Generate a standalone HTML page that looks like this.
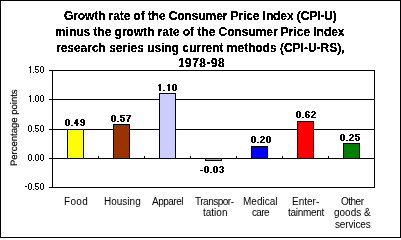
<!DOCTYPE html>
<html><head><meta charset="utf-8">
<style>
html,body{margin:0;padding:0;}
body{width:401px;height:238px;position:relative;overflow:hidden;background:#fff;font-family:"Liberation Sans",sans-serif;color:#000;}
.l{position:absolute;background:#000;}
.x{position:absolute;white-space:pre;line-height:16px;}
.b{font-weight:bold;filter:url(#th);}
.r{will-change:transform;}
.bar{position:absolute;box-sizing:border-box;border:1px solid #000;width:17px;}
</style></head><body>
<div style="position:absolute;left:0;top:0;width:401px;height:238px;box-sizing:border-box;border:1px solid #000;"></div>
<svg width="0" height="0" style="position:absolute"><filter id="th" filterUnits="userSpaceOnUse" x="-200" y="-200" width="800" height="600" color-interpolation-filters="sRGB"><feComponentTransfer><feFuncA type="discrete" tableValues="0 1 1"/></feComponentTransfer></filter><filter id="th5" filterUnits="userSpaceOnUse" x="-200" y="-200" width="800" height="600" color-interpolation-filters="sRGB"><feComponentTransfer><feFuncA type="discrete" tableValues="0 1"/></feComponentTransfer></filter></svg>
<div class="l" style="left:49px;top:70px;width:326px;height:1px;"></div>
<div class="l" style="left:49px;top:99px;width:326px;height:1px;"></div>
<div class="l" style="left:49px;top:129px;width:326px;height:1px;"></div>
<div class="l" style="left:49px;top:158px;width:326px;height:1px;"></div>
<div class="l" style="left:49px;top:187px;width:326px;height:1px;"></div>
<div class="l" style="left:52px;top:70px;width:1px;height:118px;"></div>
<div class="l" style="left:374px;top:70px;width:1px;height:118px;"></div>
<div class="l" style="left:98px;top:156px;width:1px;height:2px;"></div>
<div class="l" style="left:144px;top:156px;width:1px;height:2px;"></div>
<div class="l" style="left:190px;top:156px;width:1px;height:2px;"></div>
<div class="l" style="left:236px;top:156px;width:1px;height:2px;"></div>
<div class="l" style="left:282px;top:156px;width:1px;height:2px;"></div>
<div class="l" style="left:328px;top:156px;width:1px;height:2px;"></div>
<div class="bar" style="left:67px;top:129px;height:30px;background:#ffff00;"></div>
<div class="bar" style="left:113px;top:124px;height:35px;background:#993300;"></div>
<div class="bar" style="left:159px;top:93px;height:66px;background:#ccccff;"></div>
<div class="bar" style="left:205px;top:158px;height:3px;background:#ff9900;"></div>
<div class="bar" style="left:251px;top:146px;height:13px;background:#0000ff;"></div>
<div class="bar" style="left:297px;top:121px;height:38px;background:#ff0000;"></div>
<div class="bar" style="left:343px;top:143px;height:16px;background:#008000;"></div>
<div class="x b" style="left:64px;top:8px;"><div style="font-size:13px;transform:scaleX(0.92);transform-origin:0 0;letter-spacing:-0.087px;">Growth rate of the Consumer Price Index (CPI-U)</div></div>
<div class="x b" style="left:55px;top:24px;"><div style="font-size:13px;transform:scaleX(0.92);transform-origin:0 0;letter-spacing:-0.021px;">minus the growth rate of the Consumer Price Index</div></div>
<div class="x b" style="left:56px;top:40px;"><div style="font-size:13px;transform:scaleX(0.92);transform-origin:0 0;">research series using current methods (CPI-U-RS),</div></div>
<div class="x b" style="left:178px;top:55px;"><div style="font-size:13px;transform:scaleX(0.92);transform-origin:0 0;letter-spacing:0.5px;">1978-98</div></div>
<div class="x r" style="left:7px;top:166px;font-size:9.5px;text-rendering:geometricPrecision;-webkit-text-stroke:0.15px #000;transform-origin:0 0;transform:rotate(-90deg);">Percentage points</div>
<div class="x r" style="left:64px;top:194px;font-size:10px;letter-spacing:0.333px;">Food</div>
<div class="x r" style="left:104px;top:194px;font-size:10px;">Housing</div>
<div class="x r" style="left:152px;top:194px;font-size:10px;letter-spacing:-0.5px;">Apparel</div>
<div class="x r" style="left:195px;top:194px;font-size:10px;letter-spacing:-0.5px;">Transpor-</div>
<div class="x r" style="left:203px;top:205px;font-size:10px;">tation</div>
<div class="x r" style="left:243px;top:194px;font-size:10px;">Medical</div>
<div class="x r" style="left:252px;top:205px;font-size:10px;letter-spacing:-0.667px;">care</div>
<div class="x r" style="left:292px;top:194px;font-size:10px;">Enter-</div>
<div class="x r" style="left:288px;top:205px;font-size:10px;letter-spacing:-0.286px;">tainment</div>
<div class="x r" style="left:341px;top:194px;font-size:10px;letter-spacing:-0.5px;">Other</div>
<div class="x r" style="left:334px;top:205px;font-size:10px;">goods &amp;</div>
<div class="x r" style="left:335px;top:217px;font-size:10px;letter-spacing:-0.143px;">services</div>
<svg width="401" height="238" style="position:absolute;left:0;top:0" shape-rendering="crispEdges"><path fill="#000" d="M30 66h1v1h-1zM29 67h2v1h-2zM30 68h1v1h-1zM30 69h1v1h-1zM30 70h1v1h-1zM30 71h1v1h-1zM30 72h1v1h-1zM33 72h1v1h-1zM35 66h4v1h-4zM35 67h1v1h-1zM35 68h1v1h-1zM35 69h3v1h-3zM38 70h1v1h-1zM35 71h1v1h-1zM38 71h1v1h-1zM36 72h2v1h-2zM41 66h2v1h-2zM40 67h1v1h-1zM43 67h1v1h-1zM40 68h1v1h-1zM43 68h1v1h-1zM40 69h1v1h-1zM43 69h1v1h-1zM40 70h1v1h-1zM43 70h1v1h-1zM40 71h1v1h-1zM43 71h1v1h-1zM41 72h2v1h-2zM30 95h1v1h-1zM29 96h2v1h-2zM30 97h1v1h-1zM30 98h1v1h-1zM30 99h1v1h-1zM30 100h1v1h-1zM30 101h1v1h-1zM33 101h1v1h-1zM36 95h2v1h-2zM35 96h1v1h-1zM38 96h1v1h-1zM35 97h1v1h-1zM38 97h1v1h-1zM35 98h1v1h-1zM38 98h1v1h-1zM35 99h1v1h-1zM38 99h1v1h-1zM35 100h1v1h-1zM38 100h1v1h-1zM36 101h2v1h-2zM41 95h2v1h-2zM40 96h1v1h-1zM43 96h1v1h-1zM40 97h1v1h-1zM43 97h1v1h-1zM40 98h1v1h-1zM43 98h1v1h-1zM40 99h1v1h-1zM43 99h1v1h-1zM40 100h1v1h-1zM43 100h1v1h-1zM41 101h2v1h-2zM29 125h2v1h-2zM28 126h1v1h-1zM31 126h1v1h-1zM28 127h1v1h-1zM31 127h1v1h-1zM28 128h1v1h-1zM31 128h1v1h-1zM28 129h1v1h-1zM31 129h1v1h-1zM28 130h1v1h-1zM31 130h1v1h-1zM29 131h2v1h-2zM33 131h1v1h-1zM35 125h4v1h-4zM35 126h1v1h-1zM35 127h1v1h-1zM35 128h3v1h-3zM38 129h1v1h-1zM35 130h1v1h-1zM38 130h1v1h-1zM36 131h2v1h-2zM41 125h2v1h-2zM40 126h1v1h-1zM43 126h1v1h-1zM40 127h1v1h-1zM43 127h1v1h-1zM40 128h1v1h-1zM43 128h1v1h-1zM40 129h1v1h-1zM43 129h1v1h-1zM40 130h1v1h-1zM43 130h1v1h-1zM41 131h2v1h-2zM29 154h2v1h-2zM28 155h1v1h-1zM31 155h1v1h-1zM28 156h1v1h-1zM31 156h1v1h-1zM28 157h1v1h-1zM31 157h1v1h-1zM28 158h1v1h-1zM31 158h1v1h-1zM28 159h1v1h-1zM31 159h1v1h-1zM29 160h2v1h-2zM33 160h1v1h-1zM36 154h2v1h-2zM35 155h1v1h-1zM38 155h1v1h-1zM35 156h1v1h-1zM38 156h1v1h-1zM35 157h1v1h-1zM38 157h1v1h-1zM35 158h1v1h-1zM38 158h1v1h-1zM35 159h1v1h-1zM38 159h1v1h-1zM36 160h2v1h-2zM41 154h2v1h-2zM40 155h1v1h-1zM43 155h1v1h-1zM40 156h1v1h-1zM43 156h1v1h-1zM40 157h1v1h-1zM43 157h1v1h-1zM40 158h1v1h-1zM43 158h1v1h-1zM40 159h1v1h-1zM43 159h1v1h-1zM41 160h2v1h-2zM29 183h2v1h-2zM28 184h1v1h-1zM31 184h1v1h-1zM28 185h1v1h-1zM31 185h1v1h-1zM28 186h1v1h-1zM31 186h1v1h-1zM28 187h1v1h-1zM31 187h1v1h-1zM28 188h1v1h-1zM31 188h1v1h-1zM29 189h2v1h-2zM33 189h1v1h-1zM35 183h4v1h-4zM35 184h1v1h-1zM35 185h1v1h-1zM35 186h3v1h-3zM38 187h1v1h-1zM35 188h1v1h-1zM38 188h1v1h-1zM36 189h2v1h-2zM41 183h2v1h-2zM40 184h1v1h-1zM43 184h1v1h-1zM40 185h1v1h-1zM43 185h1v1h-1zM40 186h1v1h-1zM43 186h1v1h-1zM40 187h1v1h-1zM43 187h1v1h-1zM40 188h1v1h-1zM43 188h1v1h-1zM41 189h2v1h-2zM25 186h2v1h-2zM159 84h2v1h-2zM158 85h3v1h-3zM159 86h2v1h-2zM159 87h2v1h-2zM159 88h2v1h-2zM159 89h2v1h-2zM159 90h2v1h-2zM163 90h2v1h-2zM168 84h2v1h-2zM167 85h3v1h-3zM168 86h2v1h-2zM168 87h2v1h-2zM168 88h2v1h-2zM168 89h2v1h-2zM168 90h2v1h-2zM173 84h3v1h-3zM172 85h2v1h-2zM175 85h2v1h-2zM172 86h2v1h-2zM175 86h2v1h-2zM172 87h2v1h-2zM175 87h2v1h-2zM172 88h2v1h-2zM175 88h2v1h-2zM172 89h2v1h-2zM175 89h2v1h-2zM173 90h3v1h-3zM66 119h3v1h-3zM65 120h2v1h-2zM68 120h2v1h-2zM65 121h2v1h-2zM68 121h2v1h-2zM65 122h2v1h-2zM68 122h2v1h-2zM65 123h2v1h-2zM68 123h2v1h-2zM65 124h2v1h-2zM68 124h2v1h-2zM66 125h3v1h-3zM71 125h2v1h-2zM76 119h2v1h-2zM75 120h3v1h-3zM75 121h3v1h-3zM74 122h4v1h-4zM74 123h5v1h-5zM76 124h2v1h-2zM76 125h2v1h-2zM81 119h3v1h-3zM80 120h2v1h-2zM83 120h2v1h-2zM80 121h2v1h-2zM83 121h2v1h-2zM81 122h4v1h-4zM83 123h2v1h-2zM80 124h2v1h-2zM83 124h2v1h-2zM81 125h3v1h-3zM112 115h3v1h-3zM111 116h2v1h-2zM114 116h2v1h-2zM111 117h2v1h-2zM114 117h2v1h-2zM111 118h2v1h-2zM114 118h2v1h-2zM111 119h2v1h-2zM114 119h2v1h-2zM111 120h2v1h-2zM114 120h2v1h-2zM112 121h3v1h-3zM117 121h2v1h-2zM120 115h5v1h-5zM120 116h2v1h-2zM120 117h4v1h-4zM123 118h2v1h-2zM120 119h2v1h-2zM123 119h2v1h-2zM120 120h2v1h-2zM123 120h2v1h-2zM121 121h3v1h-3zM126 115h5v1h-5zM129 116h2v1h-2zM128 117h2v1h-2zM128 118h2v1h-2zM127 119h2v1h-2zM127 120h2v1h-2zM127 121h2v1h-2zM200 170h3v1h-3zM205 166h3v1h-3zM204 167h2v1h-2zM207 167h2v1h-2zM204 168h2v1h-2zM207 168h2v1h-2zM204 169h2v1h-2zM207 169h2v1h-2zM204 170h2v1h-2zM207 170h2v1h-2zM204 171h2v1h-2zM207 171h2v1h-2zM205 172h3v1h-3zM210 172h2v1h-2zM214 166h3v1h-3zM213 167h2v1h-2zM216 167h2v1h-2zM213 168h2v1h-2zM216 168h2v1h-2zM213 169h2v1h-2zM216 169h2v1h-2zM213 170h2v1h-2zM216 170h2v1h-2zM213 171h2v1h-2zM216 171h2v1h-2zM214 172h3v1h-3zM220 166h3v1h-3zM219 167h2v1h-2zM222 167h2v1h-2zM222 168h2v1h-2zM221 169h2v1h-2zM222 170h2v1h-2zM219 171h2v1h-2zM222 171h2v1h-2zM220 172h3v1h-3zM252 136h3v1h-3zM251 137h2v1h-2zM254 137h2v1h-2zM251 138h2v1h-2zM254 138h2v1h-2zM251 139h2v1h-2zM254 139h2v1h-2zM251 140h2v1h-2zM254 140h2v1h-2zM251 141h2v1h-2zM254 141h2v1h-2zM252 142h3v1h-3zM257 142h2v1h-2zM261 136h3v1h-3zM260 137h2v1h-2zM263 137h2v1h-2zM263 138h2v1h-2zM262 139h2v1h-2zM261 140h2v1h-2zM260 141h2v1h-2zM260 142h5v1h-5zM267 136h3v1h-3zM266 137h2v1h-2zM269 137h2v1h-2zM266 138h2v1h-2zM269 138h2v1h-2zM266 139h2v1h-2zM269 139h2v1h-2zM266 140h2v1h-2zM269 140h2v1h-2zM266 141h2v1h-2zM269 141h2v1h-2zM267 142h3v1h-3zM297 111h3v1h-3zM296 112h2v1h-2zM299 112h2v1h-2zM296 113h2v1h-2zM299 113h2v1h-2zM296 114h2v1h-2zM299 114h2v1h-2zM296 115h2v1h-2zM299 115h2v1h-2zM296 116h2v1h-2zM299 116h2v1h-2zM297 117h3v1h-3zM302 117h2v1h-2zM306 111h3v1h-3zM305 112h2v1h-2zM308 112h2v1h-2zM305 113h2v1h-2zM305 114h4v1h-4zM305 115h2v1h-2zM308 115h2v1h-2zM305 116h2v1h-2zM308 116h2v1h-2zM306 117h3v1h-3zM312 111h3v1h-3zM311 112h2v1h-2zM314 112h2v1h-2zM314 113h2v1h-2zM313 114h2v1h-2zM312 115h2v1h-2zM311 116h2v1h-2zM311 117h5v1h-5zM341 134h3v1h-3zM340 135h2v1h-2zM343 135h2v1h-2zM340 136h2v1h-2zM343 136h2v1h-2zM340 137h2v1h-2zM343 137h2v1h-2zM340 138h2v1h-2zM343 138h2v1h-2zM340 139h2v1h-2zM343 139h2v1h-2zM341 140h3v1h-3zM346 140h2v1h-2zM350 134h3v1h-3zM349 135h2v1h-2zM352 135h2v1h-2zM352 136h2v1h-2zM351 137h2v1h-2zM350 138h2v1h-2zM349 139h2v1h-2zM349 140h5v1h-5zM355 134h5v1h-5zM355 135h2v1h-2zM355 136h4v1h-4zM358 137h2v1h-2zM355 138h2v1h-2zM358 138h2v1h-2zM355 139h2v1h-2zM358 139h2v1h-2zM356 140h3v1h-3z"/></svg>
</body></html>
